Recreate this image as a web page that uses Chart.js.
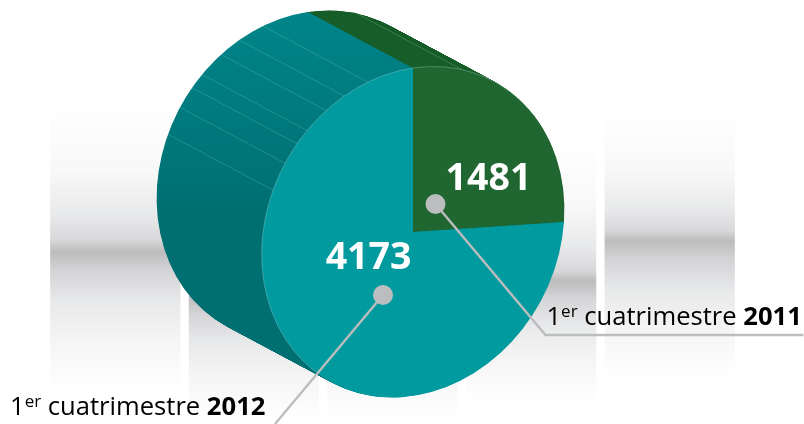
<!DOCTYPE html>
<html>
<head>
<meta charset="utf-8">
<style>
  html, body { margin: 0; background: #fff; }
  #wrap { position: relative; width: 804px; height: 424px; overflow: hidden; }
  canvas { position: absolute; left: 0; top: 0; }
</style>
</head>
<body>
<div id="wrap">
  <canvas id="columns" width="804" height="424"></canvas>
  <canvas id="pie" width="804" height="424"></canvas>
</div>
<script src="https://cdn.jsdelivr.net/npm/chart.js@4/dist/chart.umd.js"></script>
<script>
const periods = ['1er cuatrimestre 2011', '1er cuatrimestre 2012'];
const totals = [1481, 4173];

// backdrop columns, in percent of the page height
const columnNames = ['a', 'b', 'c', 'd', 'e'];
const columnTops = [75.2, 64.6, 69.3, 65.8, 73.3];
const columnBands = [40.6, 30, 31.6, 33.7, 43.2];
const columnFloors = [8, 1, 1.5, 5.2, 11];

const FACE = ['#1f6630', '#009a9f'];
const FONT = '"Open Sans", sans-serif';
const LEADER = '#bcbdbf';

// face of the drum is a sheared circle, the body runs up and to the left
const SHEAR = { a: 0.923, b: -0.1366 };
const DEPTH = { x: -105, y: -56 };
const SEAMS = [-67.6, -57.7, -50, -44.4, -35, -27, -17.3, 18.9];

function columnFill(ctx) {
  const chart = ctx.chart;
  const y = chart.scales.y;
  if (!y || ctx.dataIndex === undefined) return '#eee';
  const i = ctx.dataIndex;
  const top = y.getPixelForValue(columnTops[i]);
  const band = y.getPixelForValue(columnBands[i]);
  const floor = y.getPixelForValue(columnFloors[i]);
  // scale has no pixels until the first layout has run
  if (!isFinite(top) || !isFinite(floor)) return '#eee';
  const g = chart.ctx.createLinearGradient(0, top, 0, floor);
  const at = px => (px - top) / (floor - top);
  const up = f => at(top + (band - top) * f);
  const down = f => at(band + (floor - band) * f);
  g.addColorStop(0, '#ffffff');
  g.addColorStop(up(0.45), '#f8f8f8');
  g.addColorStop(up(0.75), '#e8e9ea');
  g.addColorStop(up(0.92), '#d8d8da');
  g.addColorStop(at(band), '#bcbcbd');
  g.addColorStop(down(0.13), '#d3d3d5');
  g.addColorStop(down(0.35), '#e7e8e9');
  g.addColorStop(down(0.65), '#f5f5f5');
  g.addColorStop(1, '#ffffff');
  return g;
}

const columnChart = new Chart(document.getElementById('columns'), {
  type: 'bar',
  data: {
    labels: columnNames,
    datasets: [{
      data: columnFloors.map((v, i) => [v, columnTops[i]]),
      backgroundColor: columnFill,
      borderWidth: 0,
      borderSkipped: false,
      barPercentage: 0.94,
      categoryPercentage: 1
    }]
  },
  options: {
    responsive: false,
    animation: false,
    layout: { padding: { left: 46, right: 65 } },
    plugins: { legend: { display: false }, tooltip: { enabled: false } },
    scales: {
      x: { display: false },
      y: { display: false, min: 0, max: 100 }
    }
  }
});
columnChart.update();

function shear(ctx, arc) {
  ctx.translate(arc.x, arc.y);
  ctx.transform(SHEAR.a, SHEAR.b, 0, 1, 0, 0);
  ctx.translate(-arc.x, -arc.y);
}

// page position of a point given in the arc's own unsheared space
function onFace(arc, dx, dy) {
  return { x: arc.x + SHEAR.a * dx, y: arc.y + SHEAR.b * dx + dy };
}

function rimPoint(arc, deg) {
  const t = deg * Math.PI / 180;
  return onFace(arc, arc.outerRadius * Math.sin(t), -arc.outerRadius * Math.cos(t));
}

const drumBody = {
  id: 'drumBody',
  beforeDatasetsDraw(chart) {
    const ctx = chart.ctx;
    const arcs = chart.getDatasetMeta(0).data;
    const teal = ctx.createLinearGradient(0, 20, 0, 210);
    teal.addColorStop(0, '#008488');
    teal.addColorStop(0.55, '#00797c');
    teal.addColorStop(1, '#006f72');
    const sides = ['#185f2b', teal];

    // stack copies of each slice from the far end to the face
    const steps = 210;
    for (let s = steps; s > 0; s--) {
      const k = s / steps;
      arcs.forEach((arc, i) => {
        ctx.save();
        ctx.translate(DEPTH.x * k, DEPTH.y * k);
        shear(ctx, arc);
        ctx.beginPath();
        ctx.moveTo(arc.x, arc.y);
        ctx.arc(arc.x, arc.y, arc.outerRadius, arc.startAngle, arc.endAngle);
        ctx.closePath();
        ctx.restore();
        ctx.fillStyle = sides[i];
        ctx.fill();
      });
    }

    // thin seams along the body
    const arc = arcs[0];
    ctx.save();
    ctx.lineWidth = 0.7;
    SEAMS.forEach(deg => {
      const p = rimPoint(arc, deg);
      ctx.strokeStyle = deg > 0 ? 'rgba(150,190,150,0.45)' : 'rgba(130,200,200,0.38)';
      ctx.beginPath();
      ctx.moveTo(p.x, p.y);
      ctx.lineTo(p.x + DEPTH.x, p.y + DEPTH.y);
      ctx.stroke();
    });
    ctx.restore();

    ctx.save();
    shear(ctx, arc);
  },
  afterDatasetsDraw(chart) {
    const ctx = chart.ctx;
    const arc = chart.getDatasetMeta(0).data[0];
    // light edge where the face meets the body
    ctx.strokeStyle = 'rgba(190,225,225,0.45)';
    ctx.lineWidth = 0.7;
    ctx.beginPath();
    ctx.arc(arc.x, arc.y, arc.outerRadius, (-140 - 90) * Math.PI / 180, (50 - 90) * Math.PI / 180);
    ctx.stroke();
    ctx.restore();
  }
};

function drawPeriod(ctx, text, x, y) {
  const [, digit, suffix, words, year] = text.match(/^(\d)(er) (.*) (\d{4})$/);
  ctx.fillStyle = '#000';
  ctx.textAlign = 'left';
  ctx.textBaseline = 'alphabetic';
  const runs = [
    [digit, 'normal', 25.6, 0],
    [suffix, 'normal', 17, -8],
    [' ' + words + ' ', 'normal', 25.6, 0],
    [year, 'bold', 25.6, 0]
  ];
  runs.forEach(([t, weight, size, rise]) => {
    ctx.font = `${weight} ${size}px ${FONT}`;
    ctx.fillText(t, x, y + rise);
    x += ctx.measureText(t).width;
  });
}

const callouts = {
  id: 'callouts',
  afterDraw(chart) {
    const ctx = chart.ctx;
    const arcs = chart.getDatasetMeta(0).data;
    const marks = arcs.map(arc => {
      const c = arc.getCenterPoint();
      return onFace(arc, c.x - arc.x, c.y - arc.y);
    });
    const spots = [
      { dot: [-33, 36], num: [20, 22], elbow: [77, 167], end: [335, 167], text: [78, 157] },
      { dot: [25.5, -1], num: [11, -27], elbow: [-82.5, 128], end: null, text: [-347.5, 119] }
    ];

    spots.forEach((s, i) => {
      const m = marks[i];
      const dx = m.x + s.dot[0], dy = m.y + s.dot[1];
      ctx.strokeStyle = LEADER;
      ctx.lineWidth = 2.4;
      ctx.beginPath();
      ctx.moveTo(dx, dy);
      ctx.lineTo(m.x + s.elbow[0], m.y + s.elbow[1]);
      if (s.end) ctx.lineTo(m.x + s.end[0], m.y + s.end[1]);
      ctx.stroke();
      ctx.fillStyle = LEADER;
      ctx.beginPath();
      ctx.arc(dx, dy, 10, 0, Math.PI * 2);
      ctx.fill();

      ctx.fillStyle = '#fff';
      ctx.font = `bold 37.5px ${FONT}`;
      ctx.textAlign = 'center';
      ctx.textBaseline = 'alphabetic';
      ctx.fillText(String(totals[i]), m.x + s.num[0], m.y + s.num[1]);

      drawPeriod(ctx, periods[i], m.x + s.text[0], m.y + s.text[1]);
    });
  }
};

new Chart(document.getElementById('pie'), {
  type: 'pie',
  data: {
    labels: periods,
    datasets: [{
      data: totals,
      backgroundColor: FACE,
      borderWidth: 0,
      clip: false
    }]
  },
  options: {
    responsive: false,
    animation: false,
    radius: 164,
    layout: { padding: { left: 22, top: 40 } },
    plugins: { legend: { display: false }, tooltip: { enabled: false } }
  },
  plugins: [drumBody, callouts]
});
</script>
</body>
</html>
